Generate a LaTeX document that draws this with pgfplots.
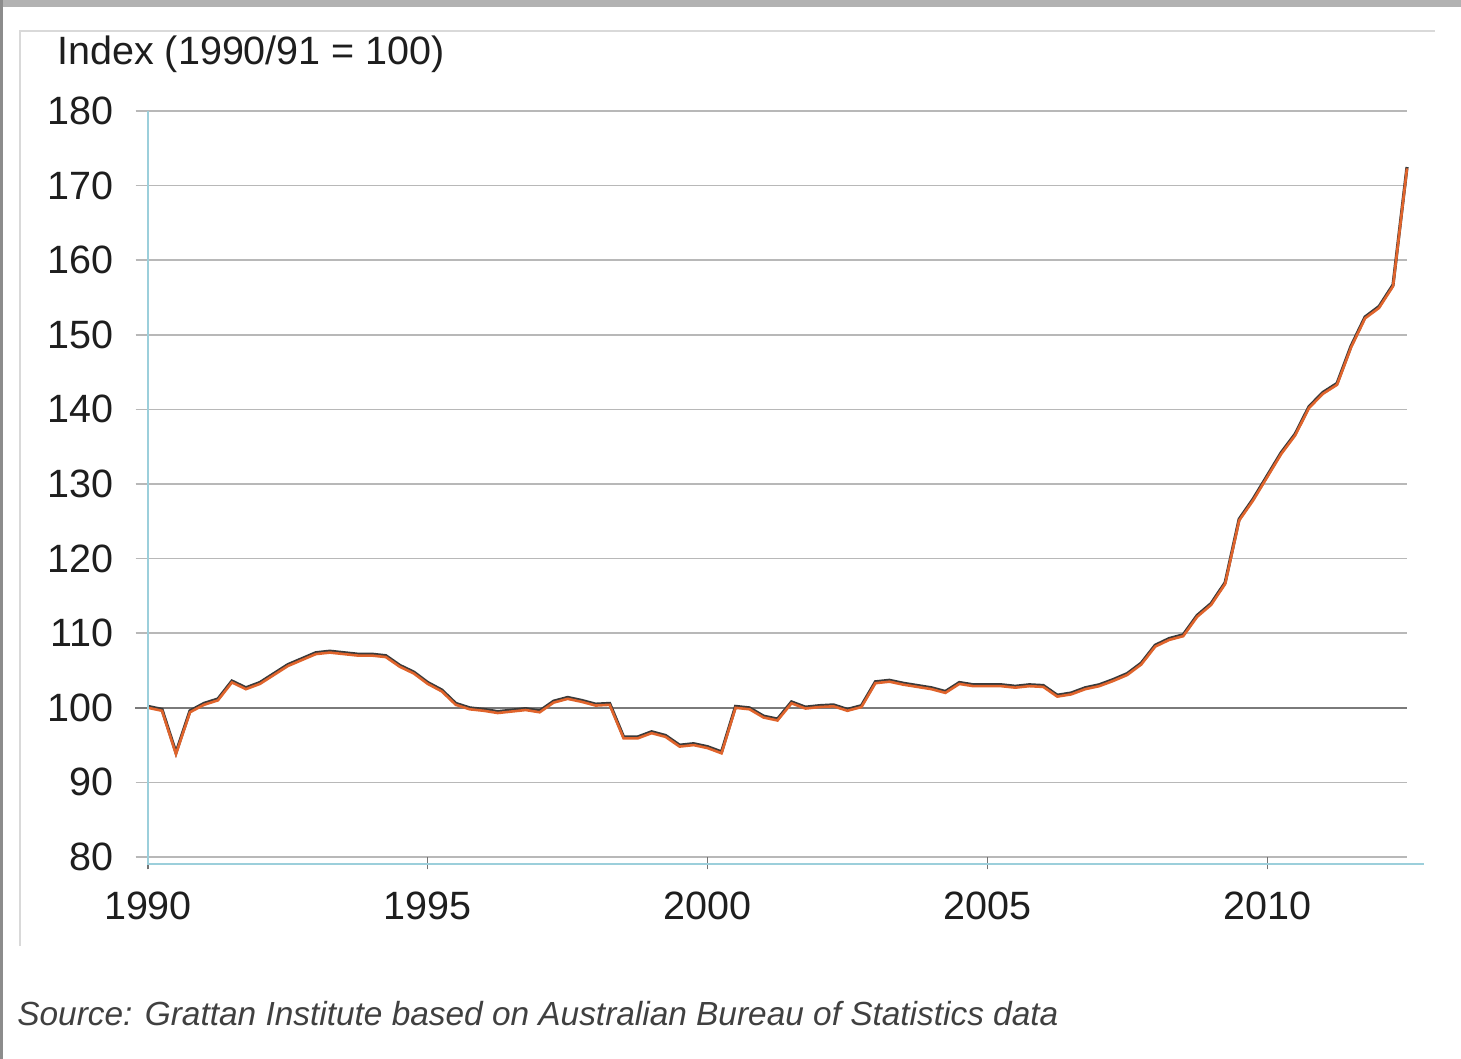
\documentclass[border=0pt]{standalone}
\usepackage{fontspec}
\setmainfont{Liberation Sans}
\usepackage{pgfplots}
\usepackage{pgfplotstable}
\pgfplotsset{compat=1.18}
\definecolor{gridc}{HTML}{B8B8B8}
\definecolor{gridd}{HTML}{7A7A7A}
\definecolor{axblue}{HTML}{9CCFDB}
\definecolor{lineor}{HTML}{E0642C}
\definecolor{lineshadow}{HTML}{3A3A3A}
\definecolor{txt}{HTML}{1E1E1E}

\pgfplotstableread{
x y
1990.00 100.0
1990.25 99.6
1990.50 93.8
1990.75 99.4
1991.00 100.4
1991.25 101.0
1991.50 103.4
1991.75 102.5
1992.00 103.2
1992.25 104.4
1992.50 105.6
1992.75 106.4
1993.00 107.2
1993.25 107.4
1993.50 107.2
1993.75 107.0
1994.00 107.0
1994.25 106.8
1994.50 105.5
1994.75 104.6
1995.00 103.2
1995.25 102.2
1995.50 100.4
1995.75 99.8
1996.00 99.6
1996.25 99.3
1996.50 99.5
1996.75 99.7
1997.00 99.4
1997.25 100.7
1997.50 101.2
1997.75 100.8
1998.00 100.3
1998.25 100.4
1998.50 95.9
1998.75 95.9
1999.00 96.6
1999.25 96.1
1999.50 94.8
1999.75 95.0
2000.00 94.6
2000.25 93.9
2000.50 100.0
2000.75 99.8
2001.00 98.7
2001.25 98.3
2001.50 100.6
2001.75 99.9
2002.00 100.1
2002.25 100.2
2002.50 99.6
2002.75 100.1
2003.00 103.3
2003.25 103.5
2003.50 103.1
2003.75 102.8
2004.00 102.5
2004.25 102.0
2004.50 103.2
2004.75 102.9
2005.00 102.9
2005.25 102.9
2005.50 102.7
2005.75 102.9
2006.00 102.8
2006.25 101.5
2006.50 101.8
2006.75 102.5
2007.00 102.9
2007.25 103.6
2007.50 104.4
2007.75 105.8
2008.00 108.2
2008.25 109.1
2008.50 109.6
2008.75 112.2
2009.00 113.8
2009.25 116.6
2009.50 125.1
2009.75 127.8
2010.00 130.9
2010.25 134.0
2010.50 136.5
2010.75 140.2
2011.00 142.1
2011.25 143.3
2011.50 148.3
2011.75 152.2
2012.00 153.6
2012.25 156.5
2012.50 172.3
}\dataindex

\begin{document}
\begin{tikzpicture}
\fill[white] (0,0) rectangle (730.5bp,529.5bp);
\fill[black!30] (0,526bp) rectangle (730.5bp,529.5bp);
\fill[black!45] (0,0) rectangle (1.5bp,529.5bp);
\draw[black!15, line width=0.6bp] (10bp,56.5bp) -- (10bp,514bp) -- (717.5bp,514bp);
\begin{axis}[
  at={(74bp,101bp)}, anchor=south west,
  scale only axis, width=629.5bp, height=373bp,
  xmin=1990, xmax=2012.5, ymin=80, ymax=180,
  axis lines=left, axis line style={draw=none,-},
  xtick={1990,1995,2000,2005,2010},
  ytick={80,90,...,180},
  xtick pos=bottom, ytick pos=left,
  ymajorgrids, grid style={gridc, line width=0.8bp},
  tick align=outside, major tick length=6.25bp,
  xtick style={black!55, line width=0.6bp},
  ytick style={gridc, line width=0.8bp},
  /pgf/number format/1000 sep={},
  /pgf/number format/assume math mode=true,
  ticklabel style={font=\fontsize{19.75bp}{20bp}\selectfont, text=txt},
  xticklabel style={yshift=-7.5bp},
  yticklabel style={xshift=-7.5bp},
  clip=false,
]
\draw[gridd, line width=0.8bp] ([xshift=-6.25bp]axis cs:1990,100) -- (axis cs:2012.5,100);
\addplot[lineshadow, line width=1.6bp, yshift=0.7bp, forget plot] table[x=x,y=y] {\dataindex};
\addplot[lineor, line width=1.3bp] table[x=x,y=y] {\dataindex};
\draw[axblue, line width=0.8bp] (rel axis cs:0,1) -- ([yshift=-3.5bp]rel axis cs:0,0) -- ([yshift=-3.5bp]rel axis cs:1.0135,0);
\end{axis}
\node[anchor=base west, inner sep=0, text=txt, font=\fontsize{19.75bp}{20bp}\selectfont] at (28.5bp,497bp) {Index (1990/91 = 100)};
\node[anchor=base west, inner sep=0, text=black!75, font=\fontsize{16.7bp}{17bp}\selectfont\itshape] at (8.5bp,17bp) {Source: Grattan Institute based on Australian Bureau of Statistics data};
\end{tikzpicture}
\end{document}
